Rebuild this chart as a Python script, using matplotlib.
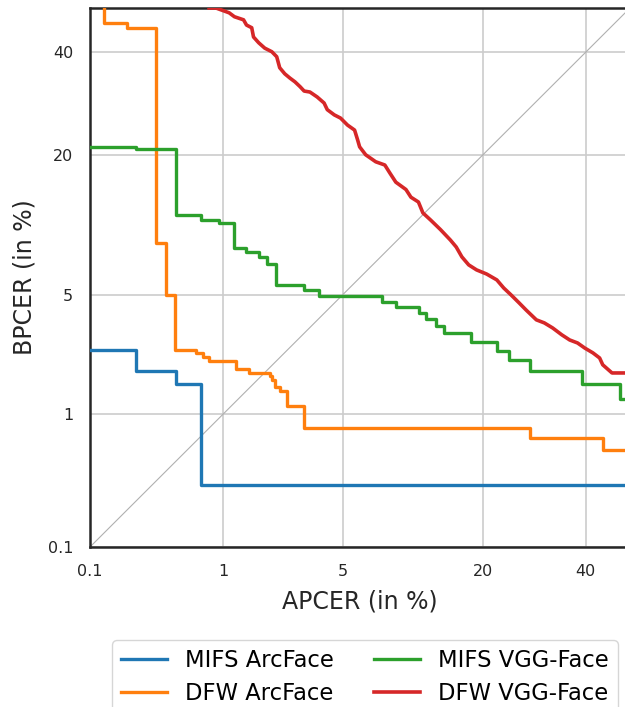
from statistics import NormalDist

import numpy as np
import matplotlib
matplotlib.use("Agg")
import matplotlib.pyplot as plt

# DET curves, values in percent (APCER on x, BPCER on y), step vertices
mifs_arc_x = [0.1, 0.233, 0.467, 0.705, 50]
mifs_arc_y = [2.5, 1.87, 1.56, 0.31, 0.31]

dfw_arc_x = [0.1, 0.131, 0.198, 0.332, 0.394, 0.459, 0.651, 0.728, 0.80, 1.20,
             1.47, 1.96, 2.02, 2.12, 2.25, 2.48, 3.11, 28.4, 43.8, 50]
dfw_arc_y = [60, 46.6, 45.5, 8.9, 5.0, 2.5, 2.40, 2.27, 2.15, 1.93,
             1.82, 1.75, 1.65, 1.49, 1.40, 1.13, 0.80, 0.685, 0.564, 0.564]

mifs_vgg_x = [0.1, 0.233, 0.467, 0.705, 0.94, 1.18, 1.39, 1.68, 1.88, 2.13,
              3.11, 3.76, 7.78, 9.01, 11.4, 12.1, 13.4, 14.4, 18.2, 22.3,
              24.4, 28.4, 39.1, 47.7, 50]
mifs_vgg_y = [21.3, 21.0, 11.8, 11.2, 10.9, 8.44, 8.10, 7.68, 7.12, 5.61,
              5.31, 4.94, 4.60, 4.33, 4.02, 3.73, 3.41, 3.12, 2.77, 2.47,
              2.18, 1.87, 1.56, 1.25, 1.25]

# dense jagged curve, traced point by point
dfw_vgg_x = [0.80, 0.89, 1.09, 1.18, 1.35, 1.41, 1.52, 1.56, 1.68, 1.83, 2.02,
             2.16, 2.25, 2.41, 2.58, 2.76, 2.95, 3.11, 3.35, 3.67, 4.00,
             4.16, 4.53, 4.88, 5.30, 5.75, 5.95, 6.09, 6.52, 7.28, 8.03,
             8.47, 9.01, 9.99, 10.5, 11.3, 11.8, 12.7, 13.9, 15.2, 16.0,
             16.8, 17.8, 19.0, 20.6, 22.3, 23.5, 24.8, 26.3, 27.6, 29.6,
             31.2, 32.9, 34.8, 36.5, 38.2, 39.8, 41.6, 43.1, 43.8, 45.9, 50]
dfw_vgg_y = [50, 50, 48.9, 48.0, 47.3, 46.1, 45.5, 43.4, 42.1, 40.9, 40.1,
             39.0, 36.6, 35.3, 34.4, 33.6, 32.6, 31.7, 31.5, 30.5, 29.3,
             28.0, 27.0, 26.4, 25.1, 24.2, 22.5, 21.3, 20.0, 18.9, 18.4,
             17.2, 15.9, 14.9, 13.9, 13.3, 12.0, 11.2, 10.2, 9.17, 8.53,
             7.68, 7.04, 6.66, 6.36, 5.95, 5.42, 5.00, 4.54, 4.17, 3.69,
             3.55, 3.33, 3.05, 2.85, 2.74, 2.56, 2.40, 2.24, 2.04, 1.82, 1.82]

ticks = [0.1, 1, 5, 20, 40]
tick_labels = ["0.1", "1", "5", "20", "40"]

_nd = NormalDist()


def probit(p):
    p = np.clip(np.asarray(p, dtype=float) / 100.0, 1e-9, 1 - 1e-9)
    return np.vectorize(_nd.inv_cdf, otypes=[float])(p)


def inv_probit(z):
    z = np.asarray(z, dtype=float)
    return 100.0 * np.vectorize(_nd.cdf, otypes=[float])(z)


fig = plt.figure(figsize=(6.25, 7.07), dpi=100)
ax = fig.add_axes([90 / 625, 160 / 707, 540 / 625, 539 / 707])

ax.set_xscale("function", functions=(probit, inv_probit))
ax.set_yscale("function", functions=(probit, inv_probit))

ax.plot([0.1, 50], [0.1, 50], color="#b0b0b0", lw=0.8, zorder=2)

ax.plot(mifs_arc_x, mifs_arc_y, drawstyle="steps-post", color="#1f77b4", lw=2.4, label="MIFS ArcFace", zorder=3)
ax.plot(dfw_arc_x, dfw_arc_y, drawstyle="steps-post", color="#ff7f0e", lw=2.4, label="DFW ArcFace", zorder=3)
ax.plot(mifs_vgg_x, mifs_vgg_y, drawstyle="steps-post", color="#2ca02c", lw=2.4, label="MIFS VGG-Face", zorder=3)
ax.plot(dfw_vgg_x, dfw_vgg_y, color="#d62728", lw=2.6, label="DFW VGG-Face", zorder=3)

ax.set_xlim(0.1, 50)
ax.set_ylim(0.1, 50)
ax.set_xticks(ticks)
ax.set_xticklabels(tick_labels)
ax.set_yticks(ticks)
ax.set_yticklabels(tick_labels)
ax.minorticks_off()
ax.tick_params(length=0, labelsize=11.5, colors="#262626", pad=12)
ax.grid(True, color="#cccccc", lw=1.2, zorder=1)
for s in ax.spines.values():
    s.set_color("#262626")
    s.set_linewidth(1.8)

ax.set_xlabel("APCER (in %)", fontsize=17, color="#262626", labelpad=8)
ax.set_ylabel("BPCER (in %)", fontsize=17, color="#262626", labelpad=8)

fig.legend(loc="upper center", bbox_to_anchor=(365 / 625, 1 - 640 / 707), ncol=2,
           fontsize=16.3, frameon=True, edgecolor="#cccccc", fancybox=True,
           borderaxespad=0, handlelength=2.0, columnspacing=1.8, labelspacing=0.45)

fig.savefig("out.png", dpi=100)
